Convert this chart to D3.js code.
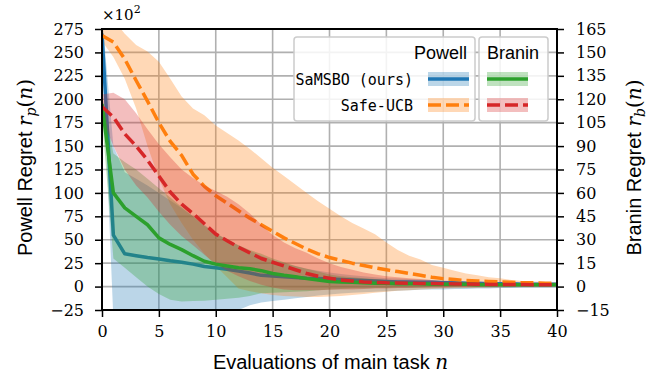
<!DOCTYPE html>
<html>
<head>
<meta charset="utf-8">
<script src="https://cdn.jsdelivr.net/npm/d3@7"></script>
<style>
  body { margin: 0; background: #fff; }
  svg { display: block; }
</style>
</head>
<body>
<svg id="chart" width="667" height="378"></svg>
<script>
// evaluations of main task
const nEval = [0,1,2,3,4,5,6,7,8,9,10,11,12,13,14,15,16,17,18,19,20,
               21,22,23,24,25,26,27,28,29,30,31,32,33,34,35,36,37,38,39,40];

// Powell regret (x10^2), SaMSBO
const powellSamsbo   = [270,55,35,33,31,29.5,27.5,26,24,21.5,20,18.5,16.5,14.5,12,11.2,10.5,9.8,9,8.5,8,7.5,7,6.5,6,5.5,5,5,4.5,4.5,4,4,3.5,3.5,3,3,3,2.5,2.5,2.5,2.5];
const powellSamsboHi = [290,150,122,115,108,100,92,84,75,66,57,50,44,38,33,28,25,22,19,17,15,13.5,12,11,10,9,8.5,8,7.5,7,6.5,6,5.5,5,5,4.5,4.5,4,4,4,4];
const powellSamsboLo = [262,-35,-35,-35,-35,-35,-35,-35,-35,-35,-35,-35,-25,-20,-17,-15.5,-14,-12.5,-11,-9.5,-8.5,-7.5,-6.5,-6,-5.5,-5,-4.5,-4,-3.5,-3,-3,-2.5,-2.5,-2,-2,-1.5,-1.5,-1,-1,-1,-1];

// Powell regret (x10^2), Safe-UCB
const powellSafe   = [268,261,243,220,198,175,155,140,120,107,97,89,81,73,66,59,52,46,40,35,31,28,25,22.5,20,18,16,14,12,10,8.5,7.5,6.5,6,5.5,5,4.5,4,4,3.5,3.5];
const powellSafeHi = [295,285,270,258,251,240,222,203,190,183,172,164,156,147,137,127,118,109,100,91,83,75,68,62,56,47,39,33,29,23,20,17,14,12,10,9,7,6,5.5,5,5];
const powellSafeLo = [262,245,222,190,150,115,88,68,50,35,22,10,-2,-5,-7,-9,-10,-10.5,-11,-11,-10.5,-10,-9,-8,-6.5,-5.5,-4.5,-4,-3,-2.5,-2,-1.8,-1.5,-1.2,-1,-0.8,-0.5,-0.3,0,0,0];

// Branin regret, SaMSBO
const braninSamsbo   = [117,60,50.4,45,39.6,31.2,27,23.7,19.8,16.2,14.4,13.2,12,11.4,10.2,8.4,7.2,6.3,5.1,4.2,3.3,3,2.7,2.4,2.1,2.1,1.8,1.8,1.8,1.5,1.5,1.5,1.5,1.2,1.2,1.2,1.2,1.2,1.2,1.2,1.2];
const braninSamsboHi = [123,85.2,79.8,75,69,63,57,51,45,39,34.2,30,26.4,23.4,21,18,15.6,13.2,11.4,9.6,7.8,6.6,6,5.4,4.8,4.2,3.9,3.6,3.3,3,3,2.7,2.7,2.4,2.4,2.4,2.1,2.1,2.1,1.8,1.8];
const braninSamsboLo = [108,18,12,6,0,-4.8,-8.4,-9.6,-9.3,-9,-8.4,-7.8,-7.2,-6,-4.2,-3.9,-3.6,-3.3,-3,-2.4,-1.8,-1.5,-1.2,-1.2,-0.9,-0.9,-0.6,-0.6,-0.6,-0.3,-0.3,-0.3,0,0,0,0,0,0,0,0,0];

// Branin regret, Safe-UCB
const braninSafe   = [115.2,108.6,97.8,90,81,70.8,60.6,52.8,46.8,40.2,33.6,29.4,25.2,21.6,18,15.6,13.2,10.8,8.4,6.6,5.4,4.2,3.6,3,2.7,2.4,2.3,2.2,2,1.9,1.8,1.7,1.6,1.5,1.4,1.4,1.3,1.3,1.2,1.2,1.2];
const braninSafeHi = [123,124.2,120,111,100.8,91.2,82.8,75,69.6,64.8,61.2,57.6,52.8,46.8,39.6,33,28.2,24.6,21.6,18,15,12.6,10.8,9,7.8,6.6,6,5.4,4.8,4.2,3.6,3.3,3,2.7,2.4,2.1,1.8,1.8,1.5,1.5,1.5];
const braninSafeLo = [108,90,75,64.8,57,48,39.6,32.4,26.4,20.4,14.4,10.2,6.6,3.6,1.2,-0.6,-1.8,-2.4,-2.4,-2.4,-2.1,-1.8,-1.8,-1.5,-1.2,-1.2,-0.9,-0.9,-0.6,-0.6,-0.6,-0.3,-0.3,-0.3,0,0,0,0,0,0,0];

const xTicks = [0,5,10,15,20,25,30,35,40];
const powellTicks = [-25,0,25,50,75,100,125,150,175,200,225,250,275];
const braninTicks = [-15,0,15,30,45,60,75,90,105,120,135,150,165];

const colors = { blue: "#1f77b4", orange: "#ff7f0e", green: "#2ca02c", red: "#d62728" };
const serif = "'DejaVu Serif', serif";
const sans = "'Liberation Sans', Arial, sans-serif";
const mono = "'DejaVu Sans Mono', 'Liberation Mono', monospace";

const svg = d3.select("#chart");
const pLeft = 102, pRight = 557, pTop = 29, pBottom = 310;

const x = d3.scaleLinear().domain([0, 40]).range([pLeft, pRight]);
const yP = d3.scaleLinear().domain([-25, 275]).range([pBottom, pTop]);
const yB = d3.scaleLinear().domain([-15, 165]).range([pBottom, pTop]);

svg.append("clipPath").attr("id", "plotClip")
  .append("rect").attr("x", pLeft).attr("y", pTop)
  .attr("width", pRight - pLeft).attr("height", pBottom - pTop);

// grid
const grid = svg.append("g");
grid.selectAll("line.gx").data(xTicks).enter().append("line")
  .attr("x1", d => x(d)).attr("x2", d => x(d))
  .attr("y1", pTop).attr("y2", pBottom)
  .attr("stroke", "#b0b0b0").attr("stroke-width", 1.6);
grid.selectAll("line.gy").data(powellTicks).enter().append("line")
  .attr("x1", pLeft).attr("x2", pRight)
  .attr("y1", d => yP(d)).attr("y2", d => yP(d))
  .attr("stroke", "#b0b0b0").attr("stroke-width", 1.6);

const plot = svg.append("g").attr("clip-path", "url(#plotClip)");

function drawSeries(mean, lo, hi, yScale, color, dashed) {
  const rows = nEval.map((n, i) => ({ n: n, m: mean[i], lo: lo[i], hi: hi[i] }));
  const area = d3.area().x(d => x(d.n)).y0(d => yScale(d.lo)).y1(d => yScale(d.hi));
  const line = d3.line().x(d => x(d.n)).y(d => yScale(d.m));
  plot.append("path").datum(rows)
    .attr("d", area).attr("fill", color).attr("fill-opacity", 0.3);
  return () => plot.append("path").datum(rows)
    .attr("d", line).attr("fill", "none")
    .attr("stroke", color).attr("stroke-width", 3.5)
    .attr("stroke-linejoin", "round")
    .attr("stroke-dasharray", dashed ? "13,5" : null);
}

// Powell axis first, Branin twin axis on top
const bl = drawSeries(powellSamsbo, powellSamsboLo, powellSamsboHi, yP, colors.blue, false);
const ol = drawSeries(powellSafe, powellSafeLo, powellSafeHi, yP, colors.orange, true);
bl(); ol();
const gl = drawSeries(braninSamsbo, braninSamsboLo, braninSamsboHi, yB, colors.green, false);
const rl = drawSeries(braninSafe, braninSafeLo, braninSafeHi, yB, colors.red, true);
gl(); rl();

// axes
function styleAxis(g) {
  g.attr("font-family", serif).attr("font-size", 16);
  g.select(".domain").remove();
  g.selectAll(".tick line").attr("stroke", "#000").attr("stroke-width", 1.5);
  g.selectAll(".tick text").attr("fill", "#000");
}
svg.append("g").attr("transform", `translate(0,${pBottom})`)
  .call(d3.axisBottom(x).tickValues(xTicks).tickSize(7).tickPadding(9))
  .call(styleAxis);
svg.append("g").attr("transform", `translate(${pLeft},0)`)
  .call(d3.axisLeft(yP).tickValues(powellTicks).tickSize(7).tickPadding(11))
  .call(styleAxis);
svg.append("g").attr("transform", `translate(${pRight},0)`)
  .call(d3.axisRight(yB).tickValues(braninTicks).tickSize(7).tickPadding(12))
  .call(styleAxis);

svg.append("rect").attr("x", pLeft).attr("y", pTop)
  .attr("width", pRight - pLeft).attr("height", pBottom - pTop)
  .attr("fill", "none").attr("stroke", "#000").attr("stroke-width", 2);

// exponent
const expo = svg.append("text").attr("x", pLeft).attr("y", 20)
  .attr("font-family", serif).attr("font-size", 15);
expo.append("tspan").text("×10");
expo.append("tspan").attr("dy", -7).attr("font-size", 11).text("2");

// axis labels
const xl = svg.append("text").attr("x", (pLeft + pRight) / 2 + 1).attr("y", 369)
  .attr("text-anchor", "middle").attr("font-family", sans).attr("font-size", 20);
xl.append("tspan").text("Evaluations of main task ");
xl.append("tspan").attr("font-family", serif).attr("font-style", "italic").text("n");

function yLabel(xPos, name, sub) {
  const t = svg.append("text")
    .attr("transform", `translate(${xPos},${(pTop + pBottom) / 2 - 2}) rotate(-90)`)
    .attr("text-anchor", "middle").attr("font-family", sans).attr("font-size", 20);
  t.append("tspan").text(name + " Regret ");
  t.append("tspan").attr("font-family", serif).attr("font-style", "italic").text("r");
  t.append("tspan").attr("font-family", serif).attr("font-style", "italic")
    .attr("font-size", 14).attr("dy", 4).text(sub);
  t.append("tspan").attr("font-family", serif).attr("dy", -4).text("(");
  t.append("tspan").attr("font-family", serif).attr("font-style", "italic").text("n");
  t.append("tspan").attr("font-family", serif).text(")");
}
yLabel(32, "Powell", "p");
yLabel(641, "Branin", "b");

// legend
const legend = svg.append("g");
const boxes = [
  { x: 294, w: 181 },
  { x: 479, w: 69 }
];
legend.selectAll("rect.box").data(boxes).enter().append("rect")
  .attr("x", d => d.x).attr("y", 37).attr("width", d => d.w).attr("height", 84)
  .attr("rx", 3).attr("fill", "#fff").attr("fill-opacity", 0.85)
  .attr("stroke", "#cccccc").attr("stroke-width", 1.5);

legend.append("text").attr("x", 467).attr("y", 59).attr("text-anchor", "end")
  .attr("font-family", sans).attr("font-size", 18).text("Powell");
legend.append("text").attr("x", 487).attr("y", 59)
  .attr("font-family", sans).attr("font-size", 18).text("Branin");

const rowsLeg = [
  { label: "SaMSBO (ours)", y: 79, c1: colors.blue, c2: colors.green, dash: null },
  { label: "Safe-UCB", y: 105, c1: colors.orange, c2: colors.red, dash: "13,5" }
];
rowsLeg.forEach(r => {
  legend.append("text").attr("x", 413).attr("y", r.y + 6).attr("text-anchor", "end")
    .attr("font-family", mono).attr("font-size", 15).text(r.label);
  [[428, r.c1], [487, r.c2]].forEach(([hx, c]) => {
    legend.append("rect").attr("x", hx).attr("y", r.y - 7).attr("width", 41).attr("height", 14)
      .attr("fill", c).attr("fill-opacity", 0.3);
    legend.append("line").attr("x1", hx).attr("x2", hx + 41).attr("y1", r.y).attr("y2", r.y)
      .attr("stroke", c).attr("stroke-width", 3.5).attr("stroke-dasharray", r.dash);
  });
});
</script>
</body>
</html>
